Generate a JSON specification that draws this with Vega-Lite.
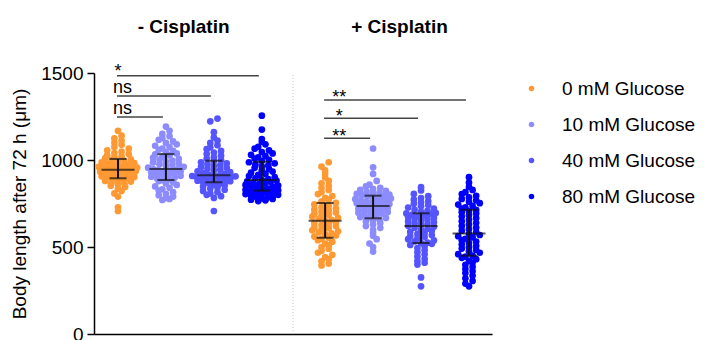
{
  "$schema": "https://vega.github.io/schema/vega-lite/v6.json",
  "autosize": {"type": "none"},
  "width": 398,
  "height": 261,
  "padding": {"left": 94, "top": 73, "right": 213, "bottom": 6},
  "config": {
    "font": "Liberation Sans",
    "view": {"stroke": null},
    "axis": {"grid": false, "domainColor": "#000", "tickColor": "#000", "labelColor": "#000", "titleColor": "#000"},
    "axisY": {"tickCount": 3, "format": "d", "tickSize": 7, "tickWidth": 1.5, "domainWidth": 1.5, "labelFontSize": 19, "labelPadding": 4, "titleFontSize": 19, "titleFontWeight": "normal", "titlePadding": 11},
    "axisX": {"labels": false, "ticks": false, "domainWidth": 1.5}
  },
  "datasets": {
    "summary": [
      {"cis": "-", "glucose": 0, "median": 944, "q1": 895, "q3": 1006},
      {"cis": "-", "glucose": 10, "median": 948, "q1": 885, "q3": 1034},
      {"cis": "-", "glucose": 40, "median": 912, "q1": 872, "q3": 996},
      {"cis": "-", "glucose": 80, "median": 885, "q1": 824, "q3": 990},
      {"cis": "+", "glucose": 0, "median": 651, "q1": 553, "q3": 753},
      {"cis": "+", "glucose": 10, "median": 736, "q1": 665, "q3": 795},
      {"cis": "+", "glucose": 40, "median": 620, "q1": 523, "q3": 694},
      {"cis": "+", "glucose": 80, "median": 577, "q1": 450, "q3": 714}
    ],
    "sig": [
      {"cis": "-", "from": 0, "to": 80, "level": 1484, "label": "*"},
      {"cis": "-", "from": 0, "to": 40, "level": 1368, "label": "ns"},
      {"cis": "-", "from": 0, "to": 10, "level": 1247, "label": "ns"},
      {"cis": "+", "from": 0, "to": 80, "level": 1345, "label": "**"},
      {"cis": "+", "from": 0, "to": 40, "level": 1240, "label": "*"},
      {"cis": "+", "from": 0, "to": 10, "level": 1125, "label": "**"}
    ],
    "heads": [
      {"cis": "-", "title": "- Cisplatin"},
      {"cis": "+", "title": "+ Cisplatin"}
    ],
    "points": [
{"cis":"-","glucose":0,"length":707},{"cis":"-","glucose":0,"length":728},{"cis":"-","glucose":0,"length":790},{"cis":"-","glucose":0,"length":808},{"cis":"-","glucose":0,"length":822},{"cis":"-","glucose":0,"length":835},{"cis":"-","glucose":0,"length":846},{"cis":"-","glucose":0,"length":852},{"cis":"-","glucose":0,"length":860},{"cis":"-","glucose":0,"length":866},{"cis":"-","glucose":0,"length":871},{"cis":"-","glucose":0,"length":876},{"cis":"-","glucose":0,"length":880},{"cis":"-","glucose":0,"length":884},{"cis":"-","glucose":0,"length":887},{"cis":"-","glucose":0,"length":890},{"cis":"-","glucose":0,"length":894},{"cis":"-","glucose":0,"length":898},{"cis":"-","glucose":0,"length":902},{"cis":"-","glucose":0,"length":906},{"cis":"-","glucose":0,"length":910},{"cis":"-","glucose":0,"length":914},{"cis":"-","glucose":0,"length":918},{"cis":"-","glucose":0,"length":921},{"cis":"-","glucose":0,"length":925},{"cis":"-","glucose":0,"length":928},{"cis":"-","glucose":0,"length":932},{"cis":"-","glucose":0,"length":935},{"cis":"-","glucose":0,"length":938},{"cis":"-","glucose":0,"length":941},{"cis":"-","glucose":0,"length":943},{"cis":"-","glucose":0,"length":945},{"cis":"-","glucose":0,"length":948},{"cis":"-","glucose":0,"length":951},{"cis":"-","glucose":0,"length":954},{"cis":"-","glucose":0,"length":957},{"cis":"-","glucose":0,"length":960},{"cis":"-","glucose":0,"length":964},{"cis":"-","glucose":0,"length":967},{"cis":"-","glucose":0,"length":970},{"cis":"-","glucose":0,"length":974},{"cis":"-","glucose":0,"length":978},{"cis":"-","glucose":0,"length":982},{"cis":"-","glucose":0,"length":986},{"cis":"-","glucose":0,"length":990},{"cis":"-","glucose":0,"length":995},{"cis":"-","glucose":0,"length":999},{"cis":"-","glucose":0,"length":1004},{"cis":"-","glucose":0,"length":1010},{"cis":"-","glucose":0,"length":1016},{"cis":"-","glucose":0,"length":1022},{"cis":"-","glucose":0,"length":1028},{"cis":"-","glucose":0,"length":1034},{"cis":"-","glucose":0,"length":1040},{"cis":"-","glucose":0,"length":1048},{"cis":"-","glucose":0,"length":1056},{"cis":"-","glucose":0,"length":1065},{"cis":"-","glucose":0,"length":1075},{"cis":"-","glucose":0,"length":1088},{"cis":"-","glucose":0,"length":1100},{"cis":"-","glucose":0,"length":1112},{"cis":"-","glucose":0,"length":1125},{"cis":"-","glucose":0,"length":1140},{"cis":"-","glucose":0,"length":1168},
{"cis":"-","glucose":10,"length":770},{"cis":"-","glucose":10,"length":776},{"cis":"-","glucose":10,"length":782},{"cis":"-","glucose":10,"length":790},{"cis":"-","glucose":10,"length":798},{"cis":"-","glucose":10,"length":806},{"cis":"-","glucose":10,"length":815},{"cis":"-","glucose":10,"length":824},{"cis":"-","glucose":10,"length":832},{"cis":"-","glucose":10,"length":840},{"cis":"-","glucose":10,"length":848},{"cis":"-","glucose":10,"length":857},{"cis":"-","glucose":10,"length":865},{"cis":"-","glucose":10,"length":872},{"cis":"-","glucose":10,"length":879},{"cis":"-","glucose":10,"length":884},{"cis":"-","glucose":10,"length":889},{"cis":"-","glucose":10,"length":894},{"cis":"-","glucose":10,"length":899},{"cis":"-","glucose":10,"length":904},{"cis":"-","glucose":10,"length":909},{"cis":"-","glucose":10,"length":913},{"cis":"-","glucose":10,"length":917},{"cis":"-","glucose":10,"length":921},{"cis":"-","glucose":10,"length":925},{"cis":"-","glucose":10,"length":929},{"cis":"-","glucose":10,"length":933},{"cis":"-","glucose":10,"length":936},{"cis":"-","glucose":10,"length":939},{"cis":"-","glucose":10,"length":942},{"cis":"-","glucose":10,"length":945},{"cis":"-","glucose":10,"length":947},{"cis":"-","glucose":10,"length":951},{"cis":"-","glucose":10,"length":956},{"cis":"-","glucose":10,"length":961},{"cis":"-","glucose":10,"length":966},{"cis":"-","glucose":10,"length":971},{"cis":"-","glucose":10,"length":976},{"cis":"-","glucose":10,"length":981},{"cis":"-","glucose":10,"length":986},{"cis":"-","glucose":10,"length":991},{"cis":"-","glucose":10,"length":996},{"cis":"-","glucose":10,"length":1001},{"cis":"-","glucose":10,"length":1007},{"cis":"-","glucose":10,"length":1013},{"cis":"-","glucose":10,"length":1019},{"cis":"-","glucose":10,"length":1026},{"cis":"-","glucose":10,"length":1032},{"cis":"-","glucose":10,"length":1038},{"cis":"-","glucose":10,"length":1045},{"cis":"-","glucose":10,"length":1052},{"cis":"-","glucose":10,"length":1059},{"cis":"-","glucose":10,"length":1066},{"cis":"-","glucose":10,"length":1074},{"cis":"-","glucose":10,"length":1082},{"cis":"-","glucose":10,"length":1090},{"cis":"-","glucose":10,"length":1098},{"cis":"-","glucose":10,"length":1107},{"cis":"-","glucose":10,"length":1116},{"cis":"-","glucose":10,"length":1126},{"cis":"-","glucose":10,"length":1137},{"cis":"-","glucose":10,"length":1150},{"cis":"-","glucose":10,"length":1168},{"cis":"-","glucose":10,"length":1192},
{"cis":"-","glucose":40,"length":707},{"cis":"-","glucose":40,"length":782},{"cis":"-","glucose":40,"length":792},{"cis":"-","glucose":40,"length":800},{"cis":"-","glucose":40,"length":808},{"cis":"-","glucose":40,"length":815},{"cis":"-","glucose":40,"length":822},{"cis":"-","glucose":40,"length":829},{"cis":"-","glucose":40,"length":836},{"cis":"-","glucose":40,"length":842},{"cis":"-","glucose":40,"length":848},{"cis":"-","glucose":40,"length":854},{"cis":"-","glucose":40,"length":859},{"cis":"-","glucose":40,"length":864},{"cis":"-","glucose":40,"length":868},{"cis":"-","glucose":40,"length":872},{"cis":"-","glucose":40,"length":875},{"cis":"-","glucose":40,"length":878},{"cis":"-","glucose":40,"length":881},{"cis":"-","glucose":40,"length":884},{"cis":"-","glucose":40,"length":887},{"cis":"-","glucose":40,"length":889},{"cis":"-","glucose":40,"length":892},{"cis":"-","glucose":40,"length":894},{"cis":"-","glucose":40,"length":897},{"cis":"-","glucose":40,"length":899},{"cis":"-","glucose":40,"length":902},{"cis":"-","glucose":40,"length":904},{"cis":"-","glucose":40,"length":906},{"cis":"-","glucose":40,"length":908},{"cis":"-","glucose":40,"length":910},{"cis":"-","glucose":40,"length":912},{"cis":"-","glucose":40,"length":916},{"cis":"-","glucose":40,"length":920},{"cis":"-","glucose":40,"length":925},{"cis":"-","glucose":40,"length":930},{"cis":"-","glucose":40,"length":935},{"cis":"-","glucose":40,"length":940},{"cis":"-","glucose":40,"length":945},{"cis":"-","glucose":40,"length":950},{"cis":"-","glucose":40,"length":955},{"cis":"-","glucose":40,"length":960},{"cis":"-","glucose":40,"length":965},{"cis":"-","glucose":40,"length":970},{"cis":"-","glucose":40,"length":976},{"cis":"-","glucose":40,"length":981},{"cis":"-","glucose":40,"length":987},{"cis":"-","glucose":40,"length":993},{"cis":"-","glucose":40,"length":1000},{"cis":"-","glucose":40,"length":1008},{"cis":"-","glucose":40,"length":1016},{"cis":"-","glucose":40,"length":1025},{"cis":"-","glucose":40,"length":1034},{"cis":"-","glucose":40,"length":1043},{"cis":"-","glucose":40,"length":1052},{"cis":"-","glucose":40,"length":1062},{"cis":"-","glucose":40,"length":1073},{"cis":"-","glucose":40,"length":1085},{"cis":"-","glucose":40,"length":1098},{"cis":"-","glucose":40,"length":1112},{"cis":"-","glucose":40,"length":1130},{"cis":"-","glucose":40,"length":1160},{"cis":"-","glucose":40,"length":1222},{"cis":"-","glucose":40,"length":1238},
{"cis":"-","glucose":80,"length":764},{"cis":"-","glucose":80,"length":768},{"cis":"-","glucose":80,"length":772},{"cis":"-","glucose":80,"length":776},{"cis":"-","glucose":80,"length":780},{"cis":"-","glucose":80,"length":784},{"cis":"-","glucose":80,"length":788},{"cis":"-","glucose":80,"length":792},{"cis":"-","glucose":80,"length":796},{"cis":"-","glucose":80,"length":800},{"cis":"-","glucose":80,"length":804},{"cis":"-","glucose":80,"length":808},{"cis":"-","glucose":80,"length":812},{"cis":"-","glucose":80,"length":815},{"cis":"-","glucose":80,"length":818},{"cis":"-","glucose":80,"length":821},{"cis":"-","glucose":80,"length":825},{"cis":"-","glucose":80,"length":829},{"cis":"-","glucose":80,"length":833},{"cis":"-","glucose":80,"length":837},{"cis":"-","glucose":80,"length":841},{"cis":"-","glucose":80,"length":845},{"cis":"-","glucose":80,"length":849},{"cis":"-","glucose":80,"length":853},{"cis":"-","glucose":80,"length":857},{"cis":"-","glucose":80,"length":861},{"cis":"-","glucose":80,"length":865},{"cis":"-","glucose":80,"length":869},{"cis":"-","glucose":80,"length":873},{"cis":"-","glucose":80,"length":877},{"cis":"-","glucose":80,"length":881},{"cis":"-","glucose":80,"length":884},{"cis":"-","glucose":80,"length":890},{"cis":"-","glucose":80,"length":896},{"cis":"-","glucose":80,"length":902},{"cis":"-","glucose":80,"length":908},{"cis":"-","glucose":80,"length":914},{"cis":"-","glucose":80,"length":920},{"cis":"-","glucose":80,"length":927},{"cis":"-","glucose":80,"length":934},{"cis":"-","glucose":80,"length":941},{"cis":"-","glucose":80,"length":948},{"cis":"-","glucose":80,"length":955},{"cis":"-","glucose":80,"length":962},{"cis":"-","glucose":80,"length":969},{"cis":"-","glucose":80,"length":975},{"cis":"-","glucose":80,"length":981},{"cis":"-","glucose":80,"length":987},{"cis":"-","glucose":80,"length":994},{"cis":"-","glucose":80,"length":1001},{"cis":"-","glucose":80,"length":1008},{"cis":"-","glucose":80,"length":1015},{"cis":"-","glucose":80,"length":1022},{"cis":"-","glucose":80,"length":1030},{"cis":"-","glucose":80,"length":1038},{"cis":"-","glucose":80,"length":1046},{"cis":"-","glucose":80,"length":1055},{"cis":"-","glucose":80,"length":1065},{"cis":"-","glucose":80,"length":1076},{"cis":"-","glucose":80,"length":1090},{"cis":"-","glucose":80,"length":1105},{"cis":"-","glucose":80,"length":1120},{"cis":"-","glucose":80,"length":1175},{"cis":"-","glucose":80,"length":1255},
{"cis":"+","glucose":0,"length":394},{"cis":"+","glucose":0,"length":405},{"cis":"+","glucose":0,"length":418},{"cis":"+","glucose":0,"length":430},{"cis":"+","glucose":0,"length":442},{"cis":"+","glucose":0,"length":455},{"cis":"+","glucose":0,"length":467},{"cis":"+","glucose":0,"length":478},{"cis":"+","glucose":0,"length":490},{"cis":"+","glucose":0,"length":500},{"cis":"+","glucose":0,"length":510},{"cis":"+","glucose":0,"length":520},{"cis":"+","glucose":0,"length":530},{"cis":"+","glucose":0,"length":539},{"cis":"+","glucose":0,"length":547},{"cis":"+","glucose":0,"length":553},{"cis":"+","glucose":0,"length":560},{"cis":"+","glucose":0,"length":566},{"cis":"+","glucose":0,"length":572},{"cis":"+","glucose":0,"length":578},{"cis":"+","glucose":0,"length":584},{"cis":"+","glucose":0,"length":590},{"cis":"+","glucose":0,"length":596},{"cis":"+","glucose":0,"length":602},{"cis":"+","glucose":0,"length":608},{"cis":"+","glucose":0,"length":614},{"cis":"+","glucose":0,"length":620},{"cis":"+","glucose":0,"length":626},{"cis":"+","glucose":0,"length":632},{"cis":"+","glucose":0,"length":638},{"cis":"+","glucose":0,"length":644},{"cis":"+","glucose":0,"length":650},{"cis":"+","glucose":0,"length":656},{"cis":"+","glucose":0,"length":662},{"cis":"+","glucose":0,"length":668},{"cis":"+","glucose":0,"length":674},{"cis":"+","glucose":0,"length":680},{"cis":"+","glucose":0,"length":686},{"cis":"+","glucose":0,"length":692},{"cis":"+","glucose":0,"length":698},{"cis":"+","glucose":0,"length":704},{"cis":"+","glucose":0,"length":710},{"cis":"+","glucose":0,"length":716},{"cis":"+","glucose":0,"length":722},{"cis":"+","glucose":0,"length":729},{"cis":"+","glucose":0,"length":737},{"cis":"+","glucose":0,"length":745},{"cis":"+","glucose":0,"length":753},{"cis":"+","glucose":0,"length":762},{"cis":"+","glucose":0,"length":772},{"cis":"+","glucose":0,"length":782},{"cis":"+","glucose":0,"length":793},{"cis":"+","glucose":0,"length":804},{"cis":"+","glucose":0,"length":816},{"cis":"+","glucose":0,"length":828},{"cis":"+","glucose":0,"length":840},{"cis":"+","glucose":0,"length":852},{"cis":"+","glucose":0,"length":866},{"cis":"+","glucose":0,"length":880},{"cis":"+","glucose":0,"length":900},{"cis":"+","glucose":0,"length":920},{"cis":"+","glucose":0,"length":940},{"cis":"+","glucose":0,"length":962},{"cis":"+","glucose":0,"length":987},
{"cis":"+","glucose":10,"length":474},{"cis":"+","glucose":10,"length":500},{"cis":"+","glucose":10,"length":520},{"cis":"+","glucose":10,"length":545},{"cis":"+","glucose":10,"length":565},{"cis":"+","glucose":10,"length":582},{"cis":"+","glucose":10,"length":598},{"cis":"+","glucose":10,"length":610},{"cis":"+","glucose":10,"length":620},{"cis":"+","glucose":10,"length":630},{"cis":"+","glucose":10,"length":638},{"cis":"+","glucose":10,"length":646},{"cis":"+","glucose":10,"length":652},{"cis":"+","glucose":10,"length":658},{"cis":"+","glucose":10,"length":663},{"cis":"+","glucose":10,"length":667},{"cis":"+","glucose":10,"length":672},{"cis":"+","glucose":10,"length":677},{"cis":"+","glucose":10,"length":682},{"cis":"+","glucose":10,"length":687},{"cis":"+","glucose":10,"length":692},{"cis":"+","glucose":10,"length":697},{"cis":"+","glucose":10,"length":701},{"cis":"+","glucose":10,"length":705},{"cis":"+","glucose":10,"length":709},{"cis":"+","glucose":10,"length":713},{"cis":"+","glucose":10,"length":717},{"cis":"+","glucose":10,"length":721},{"cis":"+","glucose":10,"length":725},{"cis":"+","glucose":10,"length":729},{"cis":"+","glucose":10,"length":733},{"cis":"+","glucose":10,"length":736},{"cis":"+","glucose":10,"length":740},{"cis":"+","glucose":10,"length":744},{"cis":"+","glucose":10,"length":747},{"cis":"+","glucose":10,"length":751},{"cis":"+","glucose":10,"length":754},{"cis":"+","glucose":10,"length":758},{"cis":"+","glucose":10,"length":761},{"cis":"+","glucose":10,"length":765},{"cis":"+","glucose":10,"length":768},{"cis":"+","glucose":10,"length":772},{"cis":"+","glucose":10,"length":775},{"cis":"+","glucose":10,"length":779},{"cis":"+","glucose":10,"length":782},{"cis":"+","glucose":10,"length":786},{"cis":"+","glucose":10,"length":790},{"cis":"+","glucose":10,"length":793},{"cis":"+","glucose":10,"length":797},{"cis":"+","glucose":10,"length":801},{"cis":"+","glucose":10,"length":805},{"cis":"+","glucose":10,"length":809},{"cis":"+","glucose":10,"length":813},{"cis":"+","glucose":10,"length":818},{"cis":"+","glucose":10,"length":823},{"cis":"+","glucose":10,"length":828},{"cis":"+","glucose":10,"length":834},{"cis":"+","glucose":10,"length":840},{"cis":"+","glucose":10,"length":848},{"cis":"+","glucose":10,"length":858},{"cis":"+","glucose":10,"length":880},{"cis":"+","glucose":10,"length":920},{"cis":"+","glucose":10,"length":958},{"cis":"+","glucose":10,"length":1066},
{"cis":"+","glucose":40,"length":274},{"cis":"+","glucose":40,"length":325},{"cis":"+","glucose":40,"length":399},{"cis":"+","glucose":40,"length":410},{"cis":"+","glucose":40,"length":420},{"cis":"+","glucose":40,"length":432},{"cis":"+","glucose":40,"length":445},{"cis":"+","glucose":40,"length":458},{"cis":"+","glucose":40,"length":470},{"cis":"+","glucose":40,"length":482},{"cis":"+","glucose":40,"length":494},{"cis":"+","glucose":40,"length":504},{"cis":"+","glucose":40,"length":512},{"cis":"+","glucose":40,"length":518},{"cis":"+","glucose":40,"length":522},{"cis":"+","glucose":40,"length":525},{"cis":"+","glucose":40,"length":532},{"cis":"+","glucose":40,"length":538},{"cis":"+","glucose":40,"length":545},{"cis":"+","glucose":40,"length":551},{"cis":"+","glucose":40,"length":557},{"cis":"+","glucose":40,"length":563},{"cis":"+","glucose":40,"length":569},{"cis":"+","glucose":40,"length":575},{"cis":"+","glucose":40,"length":581},{"cis":"+","glucose":40,"length":587},{"cis":"+","glucose":40,"length":593},{"cis":"+","glucose":40,"length":599},{"cis":"+","glucose":40,"length":605},{"cis":"+","glucose":40,"length":611},{"cis":"+","glucose":40,"length":617},{"cis":"+","glucose":40,"length":622},{"cis":"+","glucose":40,"length":627},{"cis":"+","glucose":40,"length":632},{"cis":"+","glucose":40,"length":637},{"cis":"+","glucose":40,"length":642},{"cis":"+","glucose":40,"length":647},{"cis":"+","glucose":40,"length":652},{"cis":"+","glucose":40,"length":657},{"cis":"+","glucose":40,"length":662},{"cis":"+","glucose":40,"length":667},{"cis":"+","glucose":40,"length":672},{"cis":"+","glucose":40,"length":677},{"cis":"+","glucose":40,"length":682},{"cis":"+","glucose":40,"length":686},{"cis":"+","glucose":40,"length":690},{"cis":"+","glucose":40,"length":693},{"cis":"+","glucose":40,"length":696},{"cis":"+","glucose":40,"length":702},{"cis":"+","glucose":40,"length":708},{"cis":"+","glucose":40,"length":714},{"cis":"+","glucose":40,"length":720},{"cis":"+","glucose":40,"length":727},{"cis":"+","glucose":40,"length":734},{"cis":"+","glucose":40,"length":741},{"cis":"+","glucose":40,"length":748},{"cis":"+","glucose":40,"length":756},{"cis":"+","glucose":40,"length":764},{"cis":"+","glucose":40,"length":772},{"cis":"+","glucose":40,"length":781},{"cis":"+","glucose":40,"length":792},{"cis":"+","glucose":40,"length":805},{"cis":"+","glucose":40,"length":825},{"cis":"+","glucose":40,"length":844},
{"cis":"+","glucose":80,"length":274},{"cis":"+","glucose":80,"length":290},{"cis":"+","glucose":80,"length":305},{"cis":"+","glucose":80,"length":320},{"cis":"+","glucose":80,"length":336},{"cis":"+","glucose":80,"length":350},{"cis":"+","glucose":80,"length":362},{"cis":"+","glucose":80,"length":374},{"cis":"+","glucose":80,"length":386},{"cis":"+","glucose":80,"length":398},{"cis":"+","glucose":80,"length":410},{"cis":"+","glucose":80,"length":420},{"cis":"+","glucose":80,"length":430},{"cis":"+","glucose":80,"length":438},{"cis":"+","glucose":80,"length":445},{"cis":"+","glucose":80,"length":451},{"cis":"+","glucose":80,"length":459},{"cis":"+","glucose":80,"length":467},{"cis":"+","glucose":80,"length":475},{"cis":"+","glucose":80,"length":483},{"cis":"+","glucose":80,"length":491},{"cis":"+","glucose":80,"length":499},{"cis":"+","glucose":80,"length":507},{"cis":"+","glucose":80,"length":515},{"cis":"+","glucose":80,"length":523},{"cis":"+","glucose":80,"length":531},{"cis":"+","glucose":80,"length":539},{"cis":"+","glucose":80,"length":547},{"cis":"+","glucose":80,"length":555},{"cis":"+","glucose":80,"length":562},{"cis":"+","glucose":80,"length":569},{"cis":"+","glucose":80,"length":576},{"cis":"+","glucose":80,"length":585},{"cis":"+","glucose":80,"length":594},{"cis":"+","glucose":80,"length":603},{"cis":"+","glucose":80,"length":612},{"cis":"+","glucose":80,"length":621},{"cis":"+","glucose":80,"length":630},{"cis":"+","glucose":80,"length":639},{"cis":"+","glucose":80,"length":648},{"cis":"+","glucose":80,"length":657},{"cis":"+","glucose":80,"length":666},{"cis":"+","glucose":80,"length":675},{"cis":"+","glucose":80,"length":684},{"cis":"+","glucose":80,"length":693},{"cis":"+","glucose":80,"length":700},{"cis":"+","glucose":80,"length":707},{"cis":"+","glucose":80,"length":713},{"cis":"+","glucose":80,"length":720},{"cis":"+","glucose":80,"length":728},{"cis":"+","glucose":80,"length":736},{"cis":"+","glucose":80,"length":744},{"cis":"+","glucose":80,"length":752},{"cis":"+","glucose":80,"length":760},{"cis":"+","glucose":80,"length":768},{"cis":"+","glucose":80,"length":776},{"cis":"+","glucose":80,"length":785},{"cis":"+","glucose":80,"length":794},{"cis":"+","glucose":80,"length":804},{"cis":"+","glucose":80,"length":815},{"cis":"+","glucose":80,"length":828},{"cis":"+","glucose":80,"length":845},{"cis":"+","glucose":80,"length":870},{"cis":"+","glucose":80,"length":901}
    ]
  },
  "layer": [
    {
      "data": {"values": [{}]},
      "mark": {"type": "rule", "color": "#c4c4c4", "strokeDash": [1, 2], "strokeWidth": 1},
      "encoding": {
        "x": {"datum": 4.15, "type": "quantitative", "scale": {"domain": [0, 8.3], "nice": false}, "title": null},
        "y": {"datum": 0, "type": "quantitative", "scale": {"domain": [0, 1500], "nice": false}, "title": "Body length after 72 h (μm)"},
        "y2": {"datum": 1500}
      }
    },
    {
      "data": {"name": "points"},
      "transform": [
        {"calculate": "indexof([0, 10, 40, 80], datum.glucose) + 0.5 + (datum.cis == '+' ? 4.32 : 0)", "as": "base"},
        {"calculate": "floor(datum.length / 26)", "as": "row"},
        {"joinaggregate": [{"op": "count", "as": "n"}], "groupby": ["cis", "glucose", "row"]},
        {"window": [{"op": "row_number", "as": "k"}], "groupby": ["cis", "glucose", "row"], "sort": [{"field": "length"}]},
        {"calculate": "datum.base + ((datum.k % 2 == 0 ? datum.k / 2 : -(datum.k - 1) / 2) + (datum.n % 2 == 0 ? -0.5 : 0)) * min(0.15, 0.3 / sqrt(datum.n))", "as": "pos"}
      ],
      "mark": {"type": "circle", "size": 45, "opacity": 1},
      "encoding": {
        "x": {"field": "pos", "type": "quantitative", "scale": {"domain": [0, 8.3], "nice": false}, "title": null},
        "y": {"field": "length", "type": "quantitative", "scale": {"domain": [0, 1500], "nice": false}, "title": "Body length after 72 h (μm)"},
        "color": {
          "field": "glucose", "type": "nominal",
          "scale": {"domain": [0, 10, 40, 80], "range": ["#FF9933", "#8C8CFF", "#5555FF", "#0000FF"]},
          "legend": {"title": null, "labelExpr": "datum.label + ' mM Glucose'", "symbolType": "circle", "symbolSize": 30, "labelFontSize": 19, "labelColor": "#000", "labelOffset": 21, "rowPadding": 16, "offset": 24, "padding": 6}
        }
      }
    },
    {
      "data": {"name": "summary"},
      "transform": [{"calculate": "indexof([0, 10, 40, 80], datum.glucose) + 0.5 + (datum.cis == '+' ? 4.32 : 0)", "as": "base"}],
      "layer": [
        {"mark": {"type": "rule", "color": "#111", "strokeWidth": 2},
         "encoding": {"y": {"field": "q1", "type": "quantitative", "scale": {"domain": [0, 1500], "nice": false}, "title": "Body length after 72 h (μm)"}, "y2": {"field": "q3"}}},
        {"mark": {"type": "tick", "orient": "horizontal", "color": "#111", "size": 17, "thickness": 2},
         "encoding": {"y": {"field": "q1", "type": "quantitative", "scale": {"domain": [0, 1500], "nice": false}, "title": "Body length after 72 h (μm)"}}},
        {"mark": {"type": "tick", "orient": "horizontal", "color": "#111", "size": 17, "thickness": 2},
         "encoding": {"y": {"field": "q3", "type": "quantitative", "scale": {"domain": [0, 1500], "nice": false}, "title": "Body length after 72 h (μm)"}}},
        {"mark": {"type": "tick", "orient": "horizontal", "color": "#111", "size": 33, "thickness": 2},
         "encoding": {"y": {"field": "median", "type": "quantitative", "scale": {"domain": [0, 1500], "nice": false}, "title": "Body length after 72 h (μm)"}}}
      ],
      "encoding": {
        "x": {"field": "base", "type": "quantitative", "scale": {"domain": [0, 8.3], "nice": false}, "title": null}
      }
    },
    {
      "data": {"name": "sig"},
      "transform": [
        {"calculate": "indexof([0, 10, 40, 80], datum.from) + 0.5 + (datum.cis == '+' ? 4.32 : 0)", "as": "x1"},
        {"calculate": "indexof([0, 10, 40, 80], datum.to) + 0.5 + (datum.cis == '+' ? 4.32 : 0)", "as": "x2"}
      ],
      "encoding": {
        "x": {"field": "x1", "type": "quantitative", "scale": {"domain": [0, 8.3], "nice": false}, "title": null},
        "y": {"field": "level", "type": "quantitative", "scale": {"domain": [0, 1500], "nice": false}, "title": "Body length after 72 h (μm)"}
      },
      "layer": [
        {"mark": {"type": "rule", "color": "#444", "strokeWidth": 1.5, "xOffset": -1, "x2Offset": -3},
         "encoding": {"x2": {"field": "x2"}}},
        {"transform": [{"filter": "datum.label == 'ns'"}],
         "mark": {"type": "text", "align": "left", "baseline": "alphabetic", "fontSize": 18, "dx": -5, "dy": -3, "color": "#000"},
         "encoding": {"text": {"field": "label"}}},
        {"transform": [{"filter": "datum.label != 'ns' && datum.cis == '-'"}],
         "mark": {"type": "text", "align": "left", "baseline": "alphabetic", "fontSize": 18, "dx": -3.5, "dy": 1, "color": "#000"},
         "encoding": {"text": {"field": "label"}}},
        {"transform": [{"filter": "datum.cis == '+'"}],
         "mark": {"type": "text", "align": "center", "baseline": "alphabetic", "fontSize": 18, "dx": 14, "dy": 3.5, "color": "#000"},
         "encoding": {"text": {"field": "label"}}}
      ]
    },
    {
      "data": {"name": "heads"},
      "transform": [{"calculate": "datum.cis == '+' ? 6.37 : 1.87", "as": "hx"}],
      "mark": {"type": "text", "fontWeight": "bold", "fontSize": 19, "baseline": "alphabetic", "align": "center", "dy": -40, "color": "#000"},
      "encoding": {
        "x": {"field": "hx", "type": "quantitative", "scale": {"domain": [0, 8.3], "nice": false}, "title": null},
        "y": {"datum": 1500, "type": "quantitative", "scale": {"domain": [0, 1500], "nice": false}, "title": "Body length after 72 h (μm)"},
        "text": {"field": "title"}
      }
    }
  ]
}
